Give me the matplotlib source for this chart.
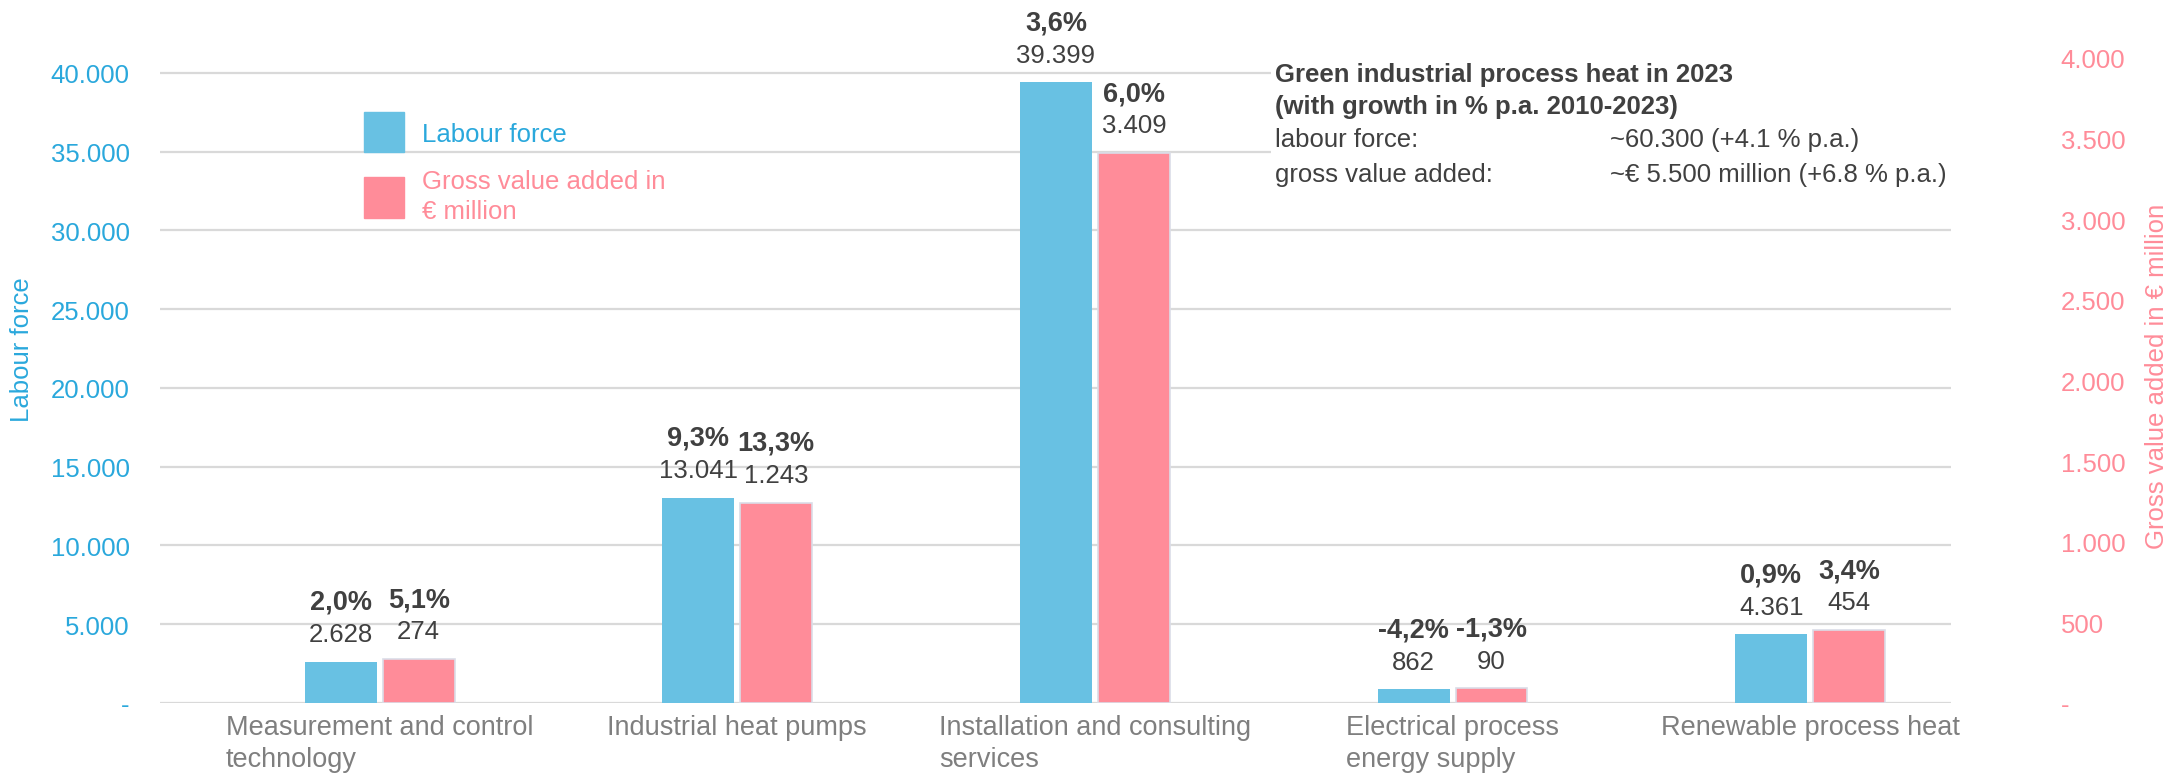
import numpy as np
import matplotlib
matplotlib.use("Agg")
import matplotlib.pyplot as plt
from matplotlib.patches import Rectangle
from matplotlib.ticker import FixedLocator, FuncFormatter

# data: green industrial process heat by segment, 2023
categories = ["Measurement and control\ntechnology", "Industrial heat pumps",
              "Installation and consulting\nservices", "Electrical process\nenergy supply",
              "Renewable process heat"]
labour = [2628, 13041, 39399, 862, 4361]
gva = [274, 1243, 3409, 90, 454]
labour_growth = ["2,0%", "9,3%", "3,6%", "-4,2%", "0,9%"]
gva_growth = ["5,1%", "13,3%", "6,0%", "-1,3%", "3,4%"]
left_ticks = [0, 5000, 10000, 15000, 20000, 25000, 30000, 35000, 40000]
right_ticks = [0, 500, 1000, 1500, 2000, 2500, 3000, 3500, 4000]

BLUE = "#68C1E3"
PINK = "#FF8C99"
BLUE_TXT = "#2AA8DC"
PINK_TXT = "#FF8C99"
DARK = "#404040"
GREY = "#7F7F7F"
FS = 18.5

plt.rcParams["font.family"] = ["Liberation Sans", "DejaVu Sans"]

W, H = 2172, 776
fig = plt.figure(figsize=(W / 100, H / 100 - 0.0001), dpi=100)
ax = fig.add_axes([0.0737, 0.0928, 0.8246, 0.8312])
ax2 = ax.twinx()

x = np.arange(len(categories))
w = 0.201
off = 0.109

ax.bar(x - off, labour, width=w, color=BLUE, zorder=3)
ax2.bar(x + off, gva, width=w, color=PINK, edgecolor="#DADDE8", linewidth=1.2, zorder=3)

ax.set_xlim(-0.614, 4.394)
ax.set_ylim(0, 40952)
ax2.set_ylim(0, 4000)

fmt = lambda v, p: "-" if v == 0 else f"{int(v):,}".replace(",", ".")
ax.yaxis.set_major_locator(FixedLocator(left_ticks))
ax.yaxis.set_major_formatter(FuncFormatter(fmt))
ax2.yaxis.set_major_locator(FixedLocator(right_ticks))
ax2.yaxis.set_major_formatter(FuncFormatter(fmt))

ax.grid(axis="y", color="#D9D9D9", linewidth=1.6, zorder=0)
ax.set_axisbelow(True)
for a in (ax, ax2):
    for s in a.spines.values():
        s.set_visible(False)

ax.tick_params(axis="y", length=0, pad=22, labelsize=FS, labelcolor=BLUE_TXT)
ax2.tick_params(axis="y", length=0, pad=79, labelsize=FS, labelcolor=PINK_TXT)
for t in ax2.get_yticklabels():
    t.set_horizontalalignment("left")

ax.set_xticks(x)
ax.set_xticklabels(categories, fontsize=19.5, color=GREY, multialignment="left",
                   linespacing=1.3, va="top")
ax.tick_params(axis="x", length=0, pad=8)

# axis titles
fig.text(22 / W, 1 - 350 / H, "Labour force", fontsize=FS, color=BLUE_TXT,
         rotation=90, ha="center", va="center")
fig.text(2157 / W, 1 - 376 / H, "Gross value added in € million", fontsize=FS,
         color=PINK_TXT, rotation=90, ha="center", va="center")

# value and growth labels above each bar
for i in range(len(categories)):
    ax.annotate(f"{labour[i]:,}".replace(",", "."), (x[i] - off, labour[i]),
                xytext=(0, 20), textcoords="offset points", ha="center", va="center",
                fontsize=FS, color=DARK)
    ax.annotate(labour_growth[i], (x[i] - off, labour[i]),
                xytext=(0, 43), textcoords="offset points", ha="center", va="center",
                fontsize=19.5, color=DARK, fontweight="bold", annotation_clip=False)
    ax2.annotate(f"{gva[i]:,}".replace(",", "."), (x[i] + off, gva[i]),
                 xytext=(0, 20), textcoords="offset points", ha="center", va="center",
                 fontsize=FS, color=DARK)
    ax2.annotate(gva_growth[i], (x[i] + off, gva[i]),
                 xytext=(0, 43), textcoords="offset points", ha="center", va="center",
                 fontsize=19.5, color=DARK, fontweight="bold", annotation_clip=False)

# legend drawn by hand as squares with labels
fig.patches.append(Rectangle((364 / W, 1 - 153 / H), 40 / W, 40 / H,
                             transform=fig.transFigure, color=BLUE))
fig.patches.append(Rectangle((364 / W, 1 - 219 / H), 40 / W, 41 / H,
                             transform=fig.transFigure, color=PINK))
fig.text(422 / W, 1 - 135 / H, "Labour force", fontsize=FS, color=BLUE_TXT, va="center")
fig.text(422 / W, 1 - 197 / H, "Gross value added in\n€ million", fontsize=FS,
         color=PINK_TXT, va="center", linespacing=1.3)

# summary box over the grid
ax.add_patch(Rectangle((0.6205, 0.78), 0.39, 0.2, transform=ax.transAxes,
                       facecolor="white", edgecolor="none", zorder=2))
fig.text(1275 / W, 1 - 75 / H, "Green industrial process heat in 2023",
         fontsize=FS, color=DARK, fontweight="bold", va="center")
fig.text(1275 / W, 1 - 107 / H, "(with growth in % p.a. 2010-2023)",
         fontsize=FS, color=DARK, fontweight="bold", va="center")
fig.text(1275 / W, 1 - 140 / H, "labour force:", fontsize=FS, color=DARK, va="center")
fig.text(1610 / W, 1 - 140 / H, "~60.300 (+4.1 % p.a.)", fontsize=FS, color=DARK, va="center")
fig.text(1275 / W, 1 - 175 / H, "gross value added:", fontsize=FS, color=DARK, va="center")
fig.text(1610 / W, 1 - 175 / H, "~€ 5.500 million (+6.8 % p.a.)", fontsize=FS,
         color=DARK, va="center")

fig.savefig("out.png", dpi=100, facecolor="white")
